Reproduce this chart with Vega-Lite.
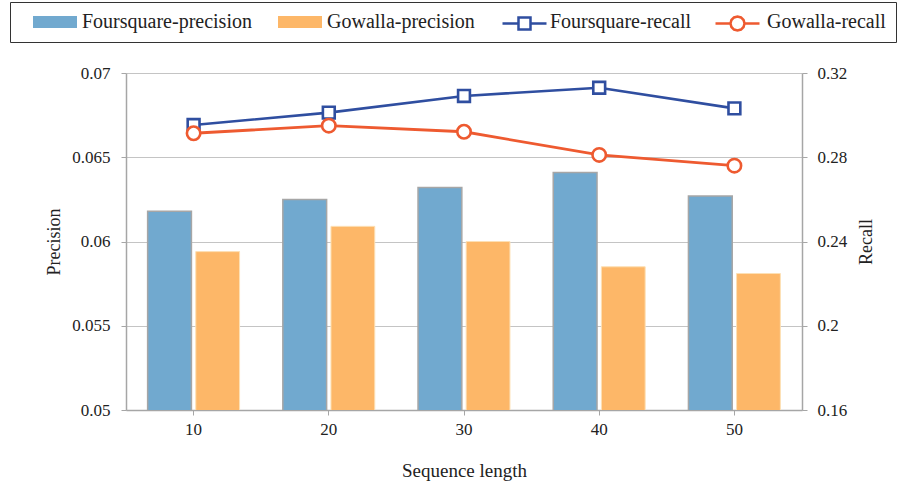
{
  "$schema": "https://vega.github.io/schema/vega-lite/v6.json",
  "autosize": {"type": "none"},
  "width": 676,
  "height": 337,
  "padding": {"left": 126, "top": 73, "right": 95, "bottom": 77},
  "background": "white",
  "config": {
    "font": "Liberation Serif",
    "view": {"stroke": null},
    "axis": {
      "labelFont": "Liberation Serif",
      "titleFont": "Liberation Serif",
      "labelColor": "#222222",
      "titleColor": "#222222",
      "titleFontWeight": "normal",
      "labelFontSize": 17,
      "titleFontSize": 18,
      "domainColor": "#a6a6a6",
      "domainWidth": 1.5,
      "tickColor": "#a6a6a6",
      "tickSize": 5,
      "gridColor": "#c4c4c4",
      "gridWidth": 1.2
    },
    "legend": {"labelFont": "Liberation Serif"}
  },
  "data": {
    "values": [
      {"len": "10", "series": "Foursquare-precision", "kind": "precision", "value": 0.0618},
      {"len": "20", "series": "Foursquare-precision", "kind": "precision", "value": 0.0625},
      {"len": "30", "series": "Foursquare-precision", "kind": "precision", "value": 0.0632},
      {"len": "40", "series": "Foursquare-precision", "kind": "precision", "value": 0.0641},
      {"len": "50", "series": "Foursquare-precision", "kind": "precision", "value": 0.0627},
      {"len": "10", "series": "Gowalla-precision", "kind": "precision", "value": 0.0594},
      {"len": "20", "series": "Gowalla-precision", "kind": "precision", "value": 0.0609},
      {"len": "30", "series": "Gowalla-precision", "kind": "precision", "value": 0.0600},
      {"len": "40", "series": "Gowalla-precision", "kind": "precision", "value": 0.0585},
      {"len": "50", "series": "Gowalla-precision", "kind": "precision", "value": 0.0581},
      {"len": "10", "series": "Foursquare-recall", "kind": "recall", "value": 0.2953},
      {"len": "20", "series": "Foursquare-recall", "kind": "recall", "value": 0.3012},
      {"len": "30", "series": "Foursquare-recall", "kind": "recall", "value": 0.3091},
      {"len": "40", "series": "Foursquare-recall", "kind": "recall", "value": 0.3130},
      {"len": "50", "series": "Foursquare-recall", "kind": "recall", "value": 0.3032},
      {"len": "10", "series": "Gowalla-recall", "kind": "recall", "value": 0.2914},
      {"len": "20", "series": "Gowalla-recall", "kind": "recall", "value": 0.2950},
      {"len": "30", "series": "Gowalla-recall", "kind": "recall", "value": 0.2921},
      {"len": "40", "series": "Gowalla-recall", "kind": "recall", "value": 0.2811},
      {"len": "50", "series": "Gowalla-recall", "kind": "recall", "value": 0.2760}
    ]
  },
  "encoding": {
    "x": {
      "field": "len",
      "type": "ordinal",
      "scale": {"paddingInner": 0.32, "paddingOuter": 0.16},
      "axis": {
        "title": "Sequence length",
        "labelAngle": 0,
        "labelPadding": 6,
        "titleFontSize": 19,
        "titlePadding": 24,
        "grid": false
      }
    }
  },
  "layer": [
    {
      "transform": [{"filter": "datum.kind === 'precision'"}],
      "mark": {"type": "bar", "clip": true},
      "encoding": {
        "xOffset": {
          "field": "series",
          "type": "nominal",
          "sort": ["Foursquare-precision", "Gowalla-precision"],
          "scale": {"paddingInner": 0.09}
        },
        "y": {
          "field": "value",
          "type": "quantitative",
          "scale": {"domain": [0.05, 0.07], "zero": false, "nice": false},
          "axis": {
            "title": "Precision",
            "values": [0.05, 0.055, 0.06, 0.065, 0.07],
            "format": ".3~f",
            "labelPadding": 11,
            "titlePadding": 8,
            "grid": true
          }
        },
        "fill": {
          "field": "series",
          "type": "nominal",
          "scale": {
            "domain": ["Foursquare-precision", "Gowalla-precision", "Foursquare-recall", "Gowalla-recall"],
            "range": ["#71a9cf", "#fdb768", "#ffffff", "#ffffff"]
          },
          "legend": {
            "title": null,
            "orient": "none",
            "legendX": -116,
            "legendY": -71,
            "direction": "horizontal",
            "columns": 4,
            "columnPadding": 13,
            "padding": 10,
            "strokeColor": "#333333",
            "labelFont": "Liberation Serif",
            "labelFontSize": 20,
            "labelColor": "#222222",
            "labelLimit": 400,
            "symbolType": "M-2.2,-0.6H2.2V0.6H-2.2Z",
            "symbolSize": 400,
            "symbolStrokeWidth": 0,
            "symbolOffset": 25,
            "labelOffset": 17
          }
        },
        "stroke": {
          "condition": {"test": "datum.series === 'Foursquare-precision'", "value": "#a6a6a6"},
          "value": "#fde0b5"
        },
        "strokeWidth": {
          "condition": {"test": "datum.series === 'Foursquare-precision'", "value": 1.5},
          "value": 1
        }
      }
    },
    {
      "layer": [
        {
          "transform": [{"filter": "datum.series === 'Foursquare-recall'"}],
          "encoding": {
            "y": {
              "field": "value",
              "type": "quantitative",
              "scale": {"domain": [0.16, 0.32], "zero": false, "nice": false},
              "axis": {
                "orient": "right",
                "title": "Recall",
                "values": [0.16, 0.2, 0.24, 0.28, 0.32],
                "format": ".2~f",
                "labelPadding": 10,
                "titlePadding": 29,
                "titleAngle": 270,
                "grid": false
              }
            },
            "stroke": {
              "field": "series",
              "type": "nominal",
              "scale": {"domain": ["Foursquare-recall"], "range": ["#2f4ea0"]},
              "legend": {
                "title": null,
                "orient": "none",
                "legendX": 387,
                "legendY": -61,
                "padding": 0,
                "labelExpr": "''",
                "symbolType": "M-2.2,0H-0.6M0.6,0H2.2M-0.6,-0.6H0.6V0.6H-0.6Z",
                "symbolSize": 400,
                "symbolStrokeWidth": 2.5,
                "symbolFillColor": "#ffffff",
                "symbolOffset": 0
              }
            }
          },
          "layer": [
            {"mark": {"type": "line", "strokeWidth": 2.6}},
            {"mark": {"type": "point", "shape": "square", "size": 140, "filled": false, "fill": "white", "fillOpacity": 1, "opacity": 1, "strokeWidth": 2.6}}
          ]
        },
        {
          "transform": [{"filter": "datum.series === 'Gowalla-recall'"}],
          "encoding": {
            "y": {
              "field": "value",
              "type": "quantitative",
              "scale": {"domain": [0.16, 0.32], "zero": false, "nice": false},
              "axis": {
                "orient": "right",
                "title": "Recall",
                "values": [0.16, 0.2, 0.24, 0.28, 0.32],
                "format": ".2~f",
                "labelPadding": 10,
                "titlePadding": 29,
                "titleAngle": 270,
                "grid": false
              }
            },
            "stroke": {
              "field": "series",
              "type": "nominal",
              "scale": {"domain": ["Gowalla-recall"], "range": ["#ee5a30"]},
              "legend": {
                "title": null,
                "orient": "none",
                "legendX": 600,
                "legendY": -61,
                "padding": 0,
                "labelExpr": "''",
                "symbolType": "M-2.2,0H-0.7M0.7,0H2.2M0.7,0L0.606,0.35L0.35,0.606L0,0.7L-0.35,0.606L-0.606,0.35L-0.7,0L-0.606,-0.35L-0.35,-0.606L0,-0.7L0.35,-0.606L0.606,-0.35Z",
                "symbolSize": 400,
                "symbolStrokeWidth": 2.5,
                "symbolFillColor": "#ffffff",
                "symbolOffset": 0
              }
            }
          },
          "layer": [
            {"mark": {"type": "line", "strokeWidth": 2.8}},
            {"mark": {"type": "point", "shape": "circle", "size": 180, "filled": false, "fill": "white", "fillOpacity": 1, "opacity": 1, "strokeWidth": 2.6}}
          ]
        }
      ],
      "resolve": {"scale": {"stroke": "independent"}}
    }
  ],
  "resolve": {"scale": {"y": "independent"}}
}
